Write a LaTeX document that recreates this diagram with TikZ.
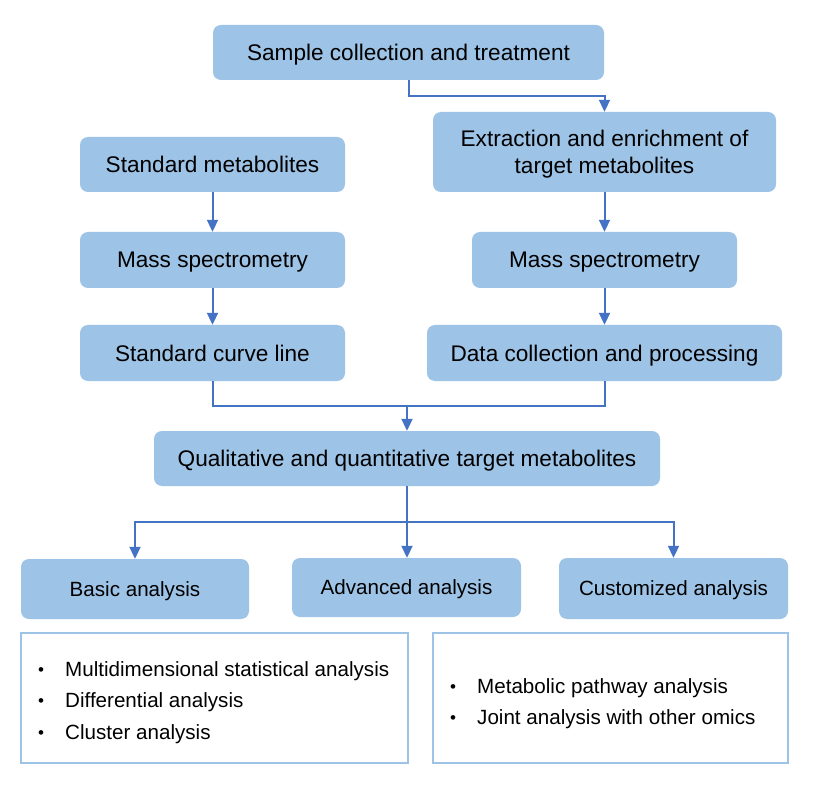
\documentclass[tikz,border=0pt]{standalone}
\usepackage{fontspec}
\setmainfont{Liberation Sans}
\usetikzlibrary{arrows.meta,positioning}
\definecolor{boxblue}{HTML}{9DC3E6}
\definecolor{arrblue}{HTML}{4472C4}
\begin{document}
\begin{tikzpicture}[x=1pt,y=-1pt,
  box/.style={fill=boxblue, rounded corners=8pt, inner sep=0pt, align=center,
    text depth=0pt, font=\fontsize{22.6}{27}\selectfont},
  abox/.style={box, font=\fontsize{20.6}{25}\selectfont},
  frame/.style={draw=boxblue, line width=2pt, inner sep=0pt},
  conn/.style={draw=arrblue, line width=2pt},
  arr/.style={conn, -{Triangle[width=11pt,length=12pt]}},
  item/.style={anchor=west, inner sep=0pt, text depth=0pt, font=\fontsize{20.6}{25}\selectfont},
  dot/.style={inner sep=0pt, yshift=-2.5pt, font=\fontsize{17}{19}\selectfont}
]
\useasboundingbox (0,0) rectangle (814,794);
\fill[white] (0,0) rectangle (814,794);

\node[box, minimum width=391pt, minimum height=55pt] (sample) at (408.5,52.5) {Sample collection and treatment};
\node[box, minimum width=343pt, minimum height=80pt] (extract) at (604.5,152) {Extraction and enrichment of\\target metabolites};
\node[box, minimum width=265pt, minimum height=55pt] (stdmet) at (212.5,164.5) {Standard metabolites};
\node[box, minimum width=265pt, minimum height=56pt] (msl) at (212.5,260) {Mass spectrometry};
\node[box, minimum width=265pt, minimum height=56pt] (stdcurve) at (212.5,353) {Standard curve line};
\node[box, minimum width=265pt, minimum height=56pt] (msr) at (604.5,260) {Mass spectrometry};
\node[box, minimum width=355pt, minimum height=56pt] (datacoll) at (604.5,353) {Data collection and processing};
\node[box, minimum width=506pt, minimum height=55pt] (qual) at (407,458.5) {Qualitative and quantitative target metabolites};
\node[abox, minimum width=228pt, minimum height=60pt] (basic) at (135,589) {Basic analysis};
\node[abox, minimum width=229pt, minimum height=59pt] (adv) at (406.5,587.5) {Advanced analysis};
\node[abox, minimum width=229pt, minimum height=61pt] (cust) at (673.5,588.5) {Customized analysis};

\node[frame, minimum width=387pt, minimum height=130pt] (lframe) at (214.5,698) {};
\node[frame, minimum width=355pt, minimum height=130pt] (rframe) at (610.5,698) {};

\node[dot] (b1) at (41,669) {•};
\node[dot] (b2) at (41,700) {•};
\node[dot] (b3) at (41,732) {•};
\node[item] (t1) at (65,669) {Multidimensional statistical analysis};
\node[item] (t2) at (65,700) {Differential analysis};
\node[item] (t3) at (65,732) {Cluster analysis};
\node[dot] (b4) at (453,686) {•};
\node[dot] (b5) at (453,717) {•};
\node[item] (t4) at (477,686) {Metabolic pathway analysis};
\node[item] (t5) at (477,717) {Joint analysis with other omics};

\draw[arr] (sample.south) -- ++(0,16) -| (extract.north);
\draw[arr] (stdmet.south) -- (msl.north);
\draw[arr] (msl.south) -- (stdcurve.north);
\draw[arr] (extract.south) -- (msr.north);
\draw[arr] (msr.south) -- (datacoll.north);
\draw[conn] (stdcurve.south) -- ++(0,25) -| (datacoll.south);
\coordinate (m1) at (407,406);
\draw[arr] (m1) -- (qual.north);
\coordinate (s1) at (407,522);
\draw[conn] (qual.south) -- (s1);
\draw[arr] (s1) -| (basic.north);
\draw[arr] (s1) -| (cust.north);
\draw[arr] (s1) -- (s1 |- adv.north);
\end{tikzpicture}
\end{document}
